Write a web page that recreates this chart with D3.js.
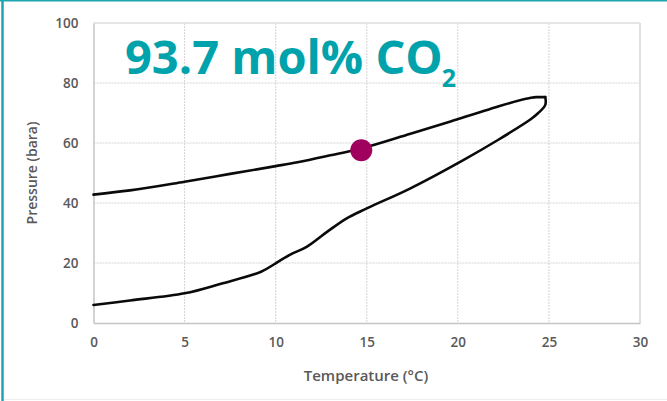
<!DOCTYPE html>
<html>
<head>
<meta charset="utf-8">
<script src="https://cdn.jsdelivr.net/npm/d3@7/dist/d3.min.js"></script>
<style>
  html, body { margin: 0; padding: 0; background: #fff; }
  svg { display: block; }
</style>
</head>
<body>
<svg id="chart" width="667" height="401"></svg>
<script>
// Phase envelope of a CO2-rich mixture: dew branch (upper) and bubble branch (lower)
const dewT    = [0, 2, 5, 7.5, 10, 11.2, 13, 14.7, 17.4, 19.6, 21.7, 23.9, 24.3, 24.8];
const dewP    = [42.8, 44.2, 47.1, 49.7, 52.3, 53.6, 55.9, 58.2, 63.1, 67.2, 71.2, 74.9, 75.3, 75.3];
const bubbleT = [0, 2, 5, 7, 9.2, 10, 10.8, 11.7, 12.8, 13.9, 15, 17.4, 20.3, 22.2, 24.0, 24.4, 24.8, 24.8];
const bubbleP = [6.0, 7.5, 9.9, 13.1, 17.1, 19.9, 22.8, 25.4, 30.3, 34.9, 38.2, 44.9, 54.3, 61.0, 67.9, 69.9, 72.7, 75.3];

// Operating point marker
const pointT = [14.7];
const pointP = [57.6];

const xTicks = [0, 5, 10, 15, 20, 25, 30];
const yTicks = [0, 20, 40, 60, 80, 100];

const titleMain = "93.7 mol% CO";
const titleSub = "2";
const xLabel = "Temperature (°C)";
const yLabel = "Pressure (bara)";

const svg = d3.select("#chart");
const W = 667, H = 401;
const plot = { left: 93.5, right: 640, top: 23, bottom: 323 };

const x = d3.scaleLinear().domain([0, 30]).range([plot.left, plot.right]);
const y = d3.scaleLinear().domain([0, 100]).range([plot.bottom, plot.top]);

// Frame accents
svg.append("rect").attr("x", 0).attr("y", 0).attr("width", W).attr("height", H).attr("fill", "#fff");
svg.append("line").attr("x1", 2.5).attr("x2", 2.5).attr("y1", 0).attr("y2", H)
  .attr("stroke", "#1ba6b0").attr("stroke-width", 2.5);
svg.append("line").attr("x1", 0).attr("x2", W).attr("y1", 0.75).attr("y2", 0.75)
  .attr("stroke", "#1ba6b0").attr("stroke-width", 1.5);
svg.append("line").attr("x1", 4).attr("x2", W).attr("y1", 399.5).attr("y2", 399.5)
  .attr("stroke", "#eeeeee").attr("stroke-width", 1);

// Gridlines
const grid = svg.append("g");
grid.selectAll("line.gx").data(xTicks.filter(d => d > 0 && d < 30)).join("line")
  .attr("x1", d => x(d)).attr("x2", d => x(d))
  .attr("y1", plot.top).attr("y2", plot.bottom)
  .attr("stroke", "#d4d4d4").attr("stroke-width", 1).attr("stroke-dasharray", "2,1");
grid.selectAll("line.gy").data(yTicks.filter(d => d > 0 && d < 100)).join("line")
  .attr("x1", plot.left).attr("x2", plot.right)
  .attr("y1", d => y(d)).attr("y2", d => y(d))
  .attr("stroke", "#d4d4d4").attr("stroke-width", 1).attr("stroke-dasharray", "2,1");
// Plot border (top and right)
grid.append("line").attr("x1", plot.left).attr("x2", plot.right).attr("y1", plot.top).attr("y2", plot.top)
  .attr("stroke", "#dcdcdc").attr("stroke-width", 1.5);
grid.append("line").attr("x1", plot.right).attr("x2", plot.right).attr("y1", plot.top).attr("y2", plot.bottom)
  .attr("stroke", "#dcdcdc").attr("stroke-width", 1.8);

// Axes
const labelFont = "'Open Sans', Lato, sans-serif";
const xAxis = svg.append("g").attr("transform", `translate(0,${plot.bottom})`)
  .call(d3.axisBottom(x).tickValues(xTicks).tickSize(0).tickPadding(14));
const yAxis = svg.append("g").attr("transform", `translate(${plot.left},0)`)
  .call(d3.axisLeft(y).tickValues(yTicks).tickSize(0).tickPadding(15));
[xAxis, yAxis].forEach(a => {
  a.select(".domain").attr("stroke", "#c4c4c4").attr("stroke-width", 1.5);
  a.selectAll("text").attr("fill", "#595959").attr("font-family", labelFont)
    .attr("font-size", 13.5).attr("font-weight", 600);
});
xAxis.selectAll("text").attr("dy", "0.71em");

// Axis titles
svg.append("text").attr("x", 366).attr("y", 381)
  .attr("text-anchor", "middle").attr("fill", "#595959")
  .attr("font-family", labelFont).attr("font-size", 15).attr("font-weight", 600)
  .text(xLabel);
svg.append("text").attr("transform", "translate(37,173) rotate(-90)")
  .attr("text-anchor", "middle").attr("fill", "#595959")
  .attr("font-family", labelFont).attr("font-size", 14).attr("font-weight", 600)
  .text(yLabel);

// Envelope branches
const dewLine = d3.line().x(d => x(d[0])).y(d => y(d[1])).curve(d3.curveMonotoneX);
const bubbleLine = d3.line().x(d => x(d[0])).y(d => y(d[1])).curve(d3.curveCatmullRom.alpha(0.5));
const dew = d3.zip(dewT, dewP);
const bubble = d3.zip(bubbleT, bubbleP);
svg.append("path").datum(dew).attr("d", dewLine)
  .attr("fill", "none").attr("stroke", "#0a0a0a").attr("stroke-width", 2.6)
  .attr("stroke-linejoin", "round").attr("stroke-linecap", "round");
svg.append("path").datum(bubble).attr("d", bubbleLine)
  .attr("fill", "none").attr("stroke", "#0a0a0a").attr("stroke-width", 2.6)
  .attr("stroke-linejoin", "round").attr("stroke-linecap", "round");

// Marker
svg.selectAll("circle.pt").data(d3.zip(pointT, pointP)).join("circle")
  .attr("cx", d => x(d[0])).attr("cy", d => y(d[1])).attr("r", 11)
  .attr("fill", "#a0005e");

// Heading
const title = svg.append("text").attr("x", 125).attr("y", 74)
  .attr("fill", "#00a2ac").attr("font-family", "'Open Sans', sans-serif")
  .attr("font-weight", 700).attr("font-size", 47);
title.append("tspan").text(titleMain);
title.append("tspan").attr("font-size", 25).attr("dy", 13).attr("dx", -1).text(titleSub);
</script>
</body>
</html>
